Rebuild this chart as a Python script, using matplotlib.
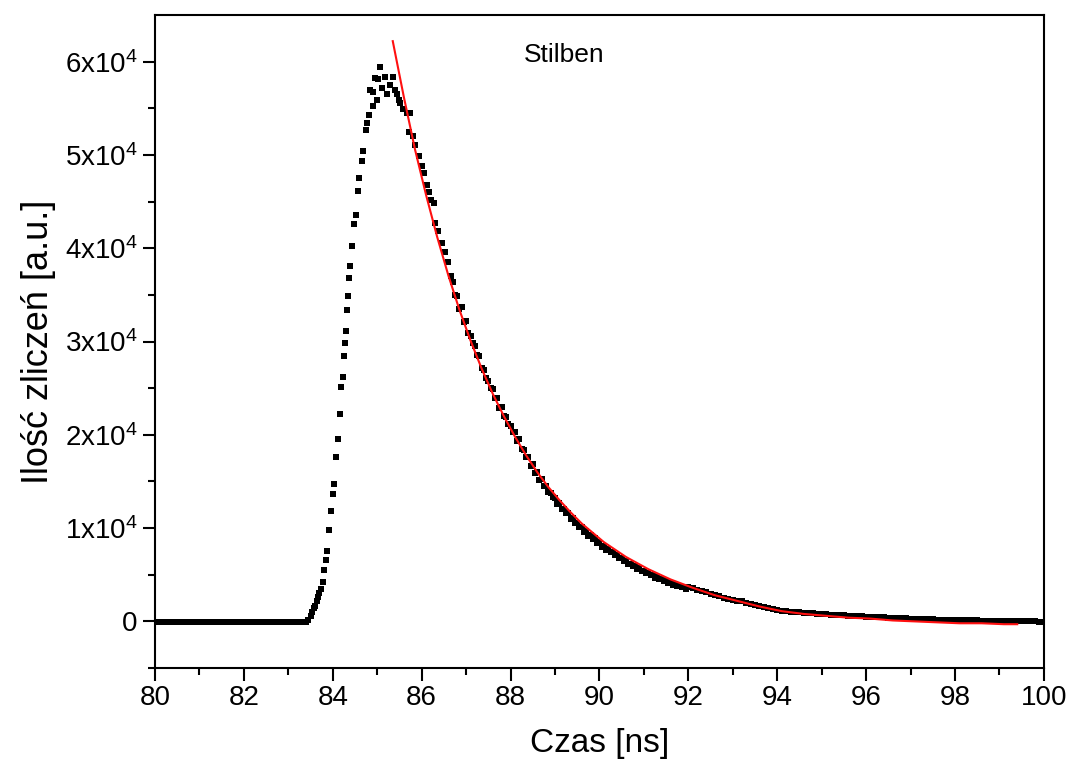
import numpy as np
import matplotlib
matplotlib.use("Agg")
import matplotlib.pyplot as plt
from matplotlib.ticker import MultipleLocator, FixedLocator

plt.rcParams["font.family"] = ["Liberation Sans", "DejaVu Sans"]
plt.rcParams["mathtext.fontset"] = "custom"
plt.rcParams["mathtext.rm"] = "Liberation Sans"
plt.rcParams["mathtext.default"] = "regular"

# flat baseline before the pulse (counts ~ 0)
baseline_step = 0.025
baseline_start, baseline_end = 80.0, 83.425
baseline_level = -100

# rising edge and peak, read point by point
rise_t = [83.45, 83.50, 83.53, 83.57, 83.60, 83.64, 83.67, 83.70, 83.73, 83.77,
          83.81, 83.85, 83.88, 83.92, 83.96, 84.01, 84.03, 84.07, 84.12, 84.16,
          84.18, 84.22, 84.26, 84.27, 84.30, 84.33, 84.35, 84.36, 84.39, 84.44,
          84.48, 84.52, 84.57, 84.60, 84.65, 84.69, 84.75, 84.78, 84.82, 84.84,
          84.90, 84.91, 84.95, 84.99, 85.02, 85.06, 85.10, 85.17, 85.23, 85.29,
          85.36, 85.39, 85.44, 85.48, 85.51, 85.59, 85.66, 85.72, 85.74, 85.80,
          85.85, 85.95, 86.00, 86.05, 86.11, 86.17, 86.22, 86.28, 86.30, 86.37,
          86.45, 86.52, 86.60, 86.65]
rise_counts = [100, 600, 1000, 1400, 1700, 2200, 2600, 3000, 3500, 4200,
               5500, 6600, 7500, 9800, 11800, 13700, 14700, 17600, 19600, 22200,
               25100, 26200, 28500, 29800, 31100, 33400, 34900, 36800, 38100, 40200,
               42600, 43600, 46100, 47500, 49300, 50400, 52700, 53400, 54300, 57000,
               55200, 56800, 58300, 55900, 58100, 59400, 57200, 58400, 56500, 57500,
               58400, 57000, 56500, 55900, 55600, 54900, 54500, 52500, 54500, 52000,
               51100, 49900, 48800, 48100, 46800, 46000, 45200, 44900, 42700, 41900,
               40600, 39600, 38500, 37000]

# decay, 86.70 .. 91.95 ns every 0.05 ns
decay_start, decay_step = 86.70, 0.05
decay_counts = [36400, 35000, 34900, 33500, 33700, 32100, 32200, 30900, 30600, 29800,
                29500, 28600, 28400, 27200, 27000, 26100, 25800, 25000, 24900, 24000,
                23900, 22900, 23000, 22000, 21900, 21200, 20900, 20300, 20300, 19300,
                19500, 18500, 18400, 17600, 17600, 16700, 16900, 15900, 16000, 15200,
                15300, 14500, 14500, 13900, 13800, 13300, 13200, 12600, 12700, 12100,
                12000, 11600, 11600, 11000, 11100, 10600, 10600, 10100, 10100, 9600,
                9700, 9200, 9300, 8800, 8900, 8400, 8500, 8000, 8100, 7700,
                7800, 7400, 7400, 7100, 7100, 6800, 6800, 6500, 6500, 6200,
                6200, 5950, 5950, 5650, 5700, 5400, 5450, 5150, 5200, 4950,
                4950, 4700, 4750, 4500, 4550, 4300, 4350, 4150, 4150, 3950,
                4000, 3800, 3800, 3650, 3650, 3500]

# tail, 92.0 .. 100.0 ns every 0.1 ns
tail_start, tail_step = 92.0, 0.1
tail_counts = [3650, 3550, 3400, 3250, 3150, 2950, 2800, 2700, 2550, 2450, 2300, 2200,
               2150, 2000, 1900, 1800, 1650, 1550, 1450, 1350, 1250, 1150,
               1100, 1050, 1000, 960, 920, 880, 850, 820, 790, 760,
               740, 710, 680, 650, 620, 600, 570, 540, 520, 500,
               480, 450, 430, 400, 380, 360, 340, 320, 300, 280,
               260, 250, 230, 220, 200, 190, 180, 160, 150, 140,
               130, 120, 110, 100, 90, 80, 70, 60, 50, 40,
               30, 20, 10, 0, 0, -10, -10, -20, -20]

# exponential fit (red line)
fit_t = [85.35, 85.60, 85.85, 86.10, 86.35, 86.60, 86.85, 87.10, 87.35, 87.60,
         87.85, 88.10, 88.35, 88.60, 88.85, 89.10, 89.35, 89.60, 89.85, 90.10,
         90.60, 91.10, 91.60, 92.10, 92.60, 93.10, 93.60, 94.10, 94.60, 95.10,
         95.60, 96.10, 96.60, 97.10, 97.60, 98.10, 98.60, 99.10, 99.40]
fit_counts = [62200, 56200, 50600, 45700, 41200, 37100, 33400, 30100, 27100, 24400,
              22000, 19800, 17800, 16000, 14400, 13000, 11700, 10500, 9500, 8500,
              6900, 5600, 4500, 3600, 2800, 2200, 1600, 1100, 800, 600,
              400, 300, 100, 0, -100, -200, -200, -300, -300]

y_ticks = [0, 10000, 20000, 30000, 40000, 50000, 60000]
y_tick_labels = ["0", "1x10$^{4}$", "2x10$^{4}$", "3x10$^{4}$", "4x10$^{4}$",
                 "5x10$^{4}$", "6x10$^{4}$"]

base_t = np.arange(baseline_start, baseline_end, baseline_step)
base_counts = np.full(len(base_t), baseline_level)
decay_t = decay_start + decay_step * np.arange(len(decay_counts))
tail_t = tail_start + tail_step * np.arange(len(tail_counts))

t_all = np.concatenate([base_t, rise_t, decay_t, tail_t])
c_all = np.concatenate([base_counts, rise_counts, decay_counts, tail_counts])

fig = plt.figure(figsize=(10.71, 7.75), dpi=100)
ax = fig.add_axes([0.1447, 0.138, 0.830, 0.8426])

ax.plot(t_all, c_all, linestyle="none", marker="s", markersize=4.0,
        color="black", markeredgewidth=0)
ax.plot(fit_t, fit_counts, color="#ff1010", linewidth=1.5)

ax.set_xlim(80, 100)
ax.set_ylim(-5000, 65000)
ax.xaxis.set_major_locator(MultipleLocator(2))
ax.xaxis.set_minor_locator(MultipleLocator(1))
ax.yaxis.set_major_locator(FixedLocator(y_ticks))
ax.set_yticklabels(y_tick_labels)
ax.yaxis.set_minor_locator(FixedLocator([-5000, 5000, 15000, 25000, 35000, 45000, 55000]))

ax.tick_params(which="both", direction="out", width=1.5, top=False, right=False,
               labelsize=20)
ax.tick_params(which="major", length=9)
ax.tick_params(which="minor", length=5)
for sp in ax.spines.values():
    sp.set_linewidth(1.5)

ax.set_xlabel("Czas [ns]", fontsize=24, labelpad=12)
ax.set_ylabel("Ilość zliczeń [a.u.]", fontsize=26, labelpad=6)
ax.text(88.3, 60700, "Stilben", fontsize=19, va="center", ha="left")

fig.savefig("out.png", dpi=100)
